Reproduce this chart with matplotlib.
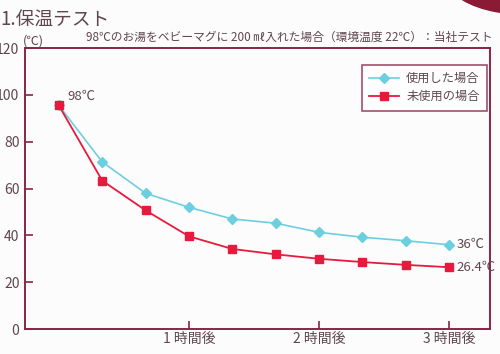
import matplotlib
matplotlib.use("Agg")
import matplotlib.pyplot as plt
from matplotlib.patches import Ellipse

plt.rcParams['font.family'] = ['Noto Sans CJK JP', 'DejaVu Sans']

minutes = [0, 20, 40, 60, 80, 100, 120, 140, 160, 180]
used = [95.5, 71.4, 58.0, 52.0, 47.0, 45.2, 41.3, 39.2, 37.7, 36.0]
unused = [95.5, 63.4, 50.7, 39.6, 34.2, 31.9, 30.0, 28.6, 27.4, 26.4]
xtick_pos = [60, 120, 180]
xtick_labels = ['1 時間後', '2 時間後', '3 時間後']
yticks = [0, 20, 40, 60, 80, 100, 120]

frame = '#8a2444'
txt = '#5e4650'
blue = '#6ccfe0'
red = '#e8193c'

fig = plt.figure(figsize=(5, 3.54), dpi=100)
fig.patch.set_facecolor('#fdfcfc')
ax = fig.add_axes([0.05, 0.0706, 0.93, 0.7934])
ax.set_facecolor('#fdfcfc')

ax.plot(minutes, used, color=blue, marker='D', markersize=5, lw=1.2, label='使用した場合')
ax.plot(minutes, unused, color=red, marker='s', markersize=5.5, lw=1.3, label='未使用の場合')

ax.set_xlim(-15.6, 198.8)
ax.set_ylim(0, 120)
ax.set_yticks(yticks)
ax.set_xticks(xtick_pos)
ax.set_xticklabels(xtick_labels)
for s in ax.spines.values():
    s.set_color(frame)
    s.set_linewidth(1.4)
ax.tick_params(axis='both', direction='in', color=frame, width=1.2, length=6,
               labelcolor=txt, labelsize=10)
ax.tick_params(axis='y', pad=4)
ax.tick_params(axis='x', pad=2)

ax.annotate('98℃', (minutes[0], unused[0]), xytext=(6, 2), textcoords='offset points',
            color=txt, fontsize=9.5, va='bottom', ha='left')
ax.annotate('36℃', (minutes[-1], used[-1]), xytext=(5, 0), textcoords='offset points',
            color=txt, fontsize=9.5, va='center', ha='left')
ax.annotate('26.4℃', (minutes[-1], unused[-1]), xytext=(5, 0), textcoords='offset points',
            color=txt, fontsize=9.5, va='center', ha='left')

leg = ax.legend(loc='upper right', bbox_to_anchor=(0.9935, 0.94), frameon=True, fancybox=False,
                fontsize=8.8, handlelength=2.4, handletextpad=0.6, borderpad=0.6,
                labelspacing=0.4, borderaxespad=0)
leg.get_frame().set_edgecolor(frame)
leg.get_frame().set_linewidth(1.2)
for t in leg.get_texts():
    t.set_color(txt)

fig.text(0.0, 0.944, '1.保温テスト', fontsize=13.5, color=txt, va='center', ha='left')
fig.text(0.986, 0.895, '98℃のお湯をベビーマグに 200 ㎖入れた場合（環境温度 22℃）：当社テスト',
         fontsize=8.5, color=txt, va='center', ha='right')
fig.text(0.046, 0.885, '(℃)', fontsize=9, color=txt, va='center', ha='left')

fig.patches.append(Ellipse((500, 362), 100, 40, angle=-10, transform=None,
                           color='#8b1a35', zorder=5))

fig.savefig('out.png', dpi=100, facecolor=fig.get_facecolor())
